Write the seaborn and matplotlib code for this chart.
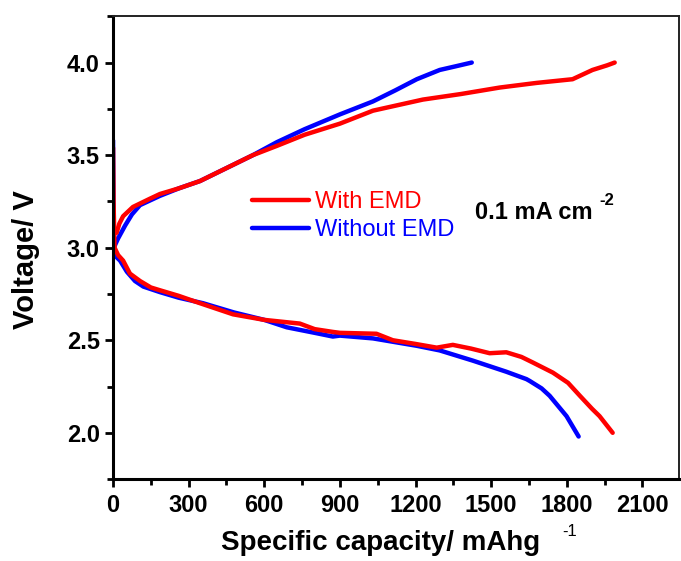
import matplotlib
matplotlib.use("Agg")
import matplotlib.pyplot as plt
from matplotlib.ticker import MultipleLocator, FormatStrFormatter
from matplotlib.lines import Line2D
import pandas as pd
import seaborn as sns

# Charge / discharge profiles (capacity in mAh g^-1, voltage in V)
with_charge_cap = [14, 25, 40, 79, 147, 186, 260, 345, 450, 555, 650, 760, 900,
                   1031, 1130, 1229, 1380, 1534, 1680, 1823, 1902, 1960, 1990]
with_charge_v = [3.08, 3.13, 3.17, 3.22, 3.265, 3.29, 3.32, 3.36, 3.43, 3.50, 3.55,
                 3.61, 3.67, 3.74, 3.77, 3.80, 3.83, 3.865, 3.89, 3.91, 3.96, 3.985, 4.00]

without_charge_cap = [3, 20, 48, 75, 107, 186, 260, 345, 450, 555, 650, 760, 900,
                      1031, 1120, 1205, 1296, 1360, 1423]
without_charge_v = [3.00, 3.05, 3.12, 3.18, 3.23, 3.28, 3.32, 3.36, 3.43, 3.50, 3.57,
                    3.64, 3.72, 3.79, 3.85, 3.91, 3.96, 3.98, 4.00]

with_dis_cap = [0, 2, 6, 20, 40, 67, 107, 150, 186, 260, 345, 476, 600, 741, 800,
                872, 900, 1045, 1110, 1200, 1284, 1348, 1420, 1494, 1560, 1620,
                1665, 1745, 1805, 1852, 1900, 1930, 1982]
with_dis_v = [3.54, 3.25, 3.00, 2.96, 2.93, 2.86, 2.82, 2.785, 2.77, 2.74, 2.70, 2.64,
              2.61, 2.59, 2.56, 2.545, 2.54, 2.535, 2.50, 2.48, 2.46, 2.475, 2.455,
              2.43, 2.435, 2.41, 2.38, 2.325, 2.27, 2.20, 2.13, 2.09, 2.00]

without_dis_cap = [0, 2, 5, 28, 55, 87, 120, 186, 260, 357, 480, 600, 689, 800,
                   872, 900, 1031, 1205, 1296, 1427, 1560, 1640, 1653, 1700, 1732,
                   1799, 1847]
without_dis_v = [3.58, 3.10, 2.96, 2.93, 2.87, 2.82, 2.79, 2.76, 2.73, 2.70, 2.65,
                 2.61, 2.57, 2.54, 2.52, 2.525, 2.51, 2.47, 2.445, 2.39, 2.33, 2.29,
                 2.28, 2.24, 2.20, 2.09, 1.98]

series_labels = ["With EMD", "Without EMD"]
series_colors = ["#ff0000", "#0000ff"]

frames = []
for label, seg, cap, v in [
    ("With EMD", "charge", with_charge_cap, with_charge_v),
    ("With EMD", "discharge", with_dis_cap, with_dis_v),
    ("Without EMD", "charge", without_charge_cap, without_charge_v),
    ("Without EMD", "discharge", without_dis_cap, without_dis_v),
]:
    frames.append(pd.DataFrame({"capacity": cap, "voltage": v,
                                "sample": label, "segment": label + seg}))
df = pd.concat(frames, ignore_index=True)

sns.set_theme(style="ticks")
plt.rcParams["font.family"] = ["Liberation Sans", "DejaVu Sans"]
plt.rcParams.update({"text.color": "black", "axes.labelcolor": "black",
                     "xtick.color": "black", "ytick.color": "black"})

fig = plt.figure(figsize=(6.81, 5.61), dpi=100)
ax = fig.add_axes([0.166, 0.146, 0.831, 0.825])

# Blue drawn first so the red curve sits on top
sns.lineplot(data=df, x="capacity", y="voltage", hue="sample",
             hue_order=["Without EMD", "With EMD"],
             palette={"With EMD": series_colors[0], "Without EMD": series_colors[1]},
             units="segment", estimator=None, sort=False, linewidth=3.2,
             legend=False, ax=ax)

ax.set_xlim(0, 2245)
ax.set_ylim(1.75, 4.25)
ax.xaxis.set_major_locator(MultipleLocator(300))
ax.xaxis.set_minor_locator(MultipleLocator(150))
ax.yaxis.set_major_locator(MultipleLocator(0.5))
ax.yaxis.set_minor_locator(MultipleLocator(0.25))
ax.yaxis.set_major_formatter(FormatStrFormatter("%.1f"))

for side in ["left", "bottom"]:
    ax.spines[side].set_linewidth(2.2)
    ax.spines[side].set_color("black")
for side in ["top", "right"]:
    ax.spines[side].set_linewidth(1.4)
    ax.spines[side].set_color("#222222")

ax.tick_params(which="major", direction="out", length=6, width=2, color="black",
               labelcolor="black", labelsize=17, top=False, right=False)
ax.tick_params(axis="x", which="major", pad=5)
ax.tick_params(axis="y", which="major", pad=3.5)
ax.tick_params(which="minor", direction="out", length=4, width=2, color="black",
               top=False, right=False)
for lab in ax.get_xticklabels() + ax.get_yticklabels():
    lab.set_fontweight("bold")

ax.set_xlabel("Specific capacity/ mAhg", fontsize=20, fontweight="bold",
              labelpad=9, color="black")
ax.xaxis.label.set_x(0.472)
ax.set_ylabel("Voltage/ V", fontsize=21, fontweight="bold", labelpad=19,
              color="black")
ax.yaxis.label.set_y(0.475)
fig.text(562 / 681, 1 - 531 / 561, "-1", fontsize=12, ha="left", va="center")

handles = [Line2D([], [], color=c, lw=3.2) for c in series_colors]
leg = ax.legend(handles, series_labels, loc="center left",
                bbox_to_anchor=(0.246, 0.568), frameon=False, fontsize=17,
                handlelength=2.4, handletextpad=0.25, labelspacing=0.25,
                borderpad=0, borderaxespad=0)
for txt, c in zip(leg.get_texts(), series_colors):
    txt.set_color(c)

ax.text(0.64, 0.575, "0.1 mA cm", transform=ax.transAxes,
        fontsize=17, fontweight="bold", ha="left", va="center")
ax.text(0.860, 0.603, "-2", transform=ax.transAxes,
        fontsize=12, fontweight="bold", ha="left", va="center")

fig.savefig("out.png", dpi=100, facecolor="white")
